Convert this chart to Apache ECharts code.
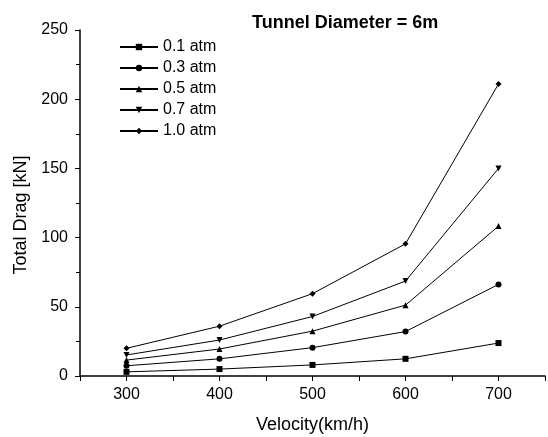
<!DOCTYPE html>
<html>
<head>
<meta charset="utf-8">
<script src="https://cdn.jsdelivr.net/npm/echarts@6/dist/echarts.min.js"></script>
<style>
  html, body { margin: 0; padding: 0; background: #fff; }
  #chart { width: 548px; height: 437px; }
</style>
</head>
<body>
<div id="chart"></div>
<script>
// velocity (km/h)
var velocity = [300, 400, 500, 600, 700];
// total drag [kN] per pressure
var drag01 = [3, 5, 8, 12.4, 23.8];
var drag03 = [7.4, 12.4, 20.5, 32.1, 66.2];
var drag05 = [11.5, 19.5, 32.4, 51.2, 108.3];
var drag07 = [15.2, 26, 43, 68.6, 150];
var drag10 = [20, 36, 59.5, 95.5, 211];
var seriesNames = ['0.1 atm', '0.3 atm', '0.5 atm', '0.7 atm', '1.0 atm'];
var xTickLabels = [300, 400, 500, 600, 700];

var chart = echarts.init(document.getElementById('chart'));
var font = 'Liberation Sans, Arial, sans-serif';

function mk(name, vals, symbol, rotate) {
  return {
    name: name,
    type: 'line',
    data: velocity.map(function (v, i) { return [v, vals[i]]; }),
    symbol: symbol,
    symbolRotate: rotate || 0,
    symbolSize: 6,
    showAllSymbol: true,
    lineStyle: { color: '#000', width: 1 },
    itemStyle: { color: '#000' },
    animation: false
  };
}

var option = {
  backgroundColor: '#fff',
  title: {
    text: 'Tunnel Diameter = 6m',
    left: 247,
    top: 9,
    textStyle: { fontFamily: font, fontWeight: 'bold', fontSize: 18, color: '#000' }
  },
  legend: {
    orient: 'vertical',
    left: 114,
    top: 34,
    itemWidth: 38,
    itemHeight: 8,
    itemGap: 5,
    data: seriesNames,
    textStyle: { fontFamily: font, fontSize: 16, color: '#000' }
  },
  grid: { left: 80, right: 3, top: 30, bottom: 61, containLabel: false, outerBoundsMode: 'none' },
  xAxis: {
    type: 'value',
    min: 250,
    max: 750,
    interval: 50,
    name: 'Velocity(km/h)',
    nameLocation: 'middle',
    nameGap: 40,
    nameTextStyle: { fontFamily: font, fontSize: 18, color: '#000' },
    axisLine: { lineStyle: { color: '#000', width: 1.5 } },
    axisTick: { show: true, length: 5, lineStyle: { color: '#000' } },
    axisLabel: {
      fontFamily: font, fontSize: 16, color: '#000', margin: 11,
      formatter: function (v) { return xTickLabels.indexOf(v) >= 0 ? String(v) : ''; }
    },
    splitLine: { show: false }
  },
  yAxis: {
    type: 'value',
    min: 0,
    max: 250,
    interval: 50,
    name: 'Total Drag [kN]',
    nameLocation: 'middle',
    nameGap: 46,
    nameTextStyle: { fontFamily: font, fontSize: 18, color: '#000', padding: [0, 24, 0, 0] },
    axisLine: { show: true, lineStyle: { color: '#000', width: 1.5 } },
    axisTick: { show: true, length: 5, lineStyle: { color: '#000' } },
    minorTick: { show: true, splitNumber: 2, length: 4, lineStyle: { color: '#000' } },
    axisLabel: { fontFamily: font, fontSize: 16, color: '#000', margin: 12 },
    splitLine: { show: false }
  },
  series: [
    mk(seriesNames[0], drag01, 'rect'),
    mk(seriesNames[1], drag03, 'circle'),
    mk(seriesNames[2], drag05, 'triangle'),
    mk(seriesNames[3], drag07, 'triangle', 180),
    mk(seriesNames[4], drag10, 'diamond')
  ]
};

chart.setOption(option);
</script>
</body>
</html>
